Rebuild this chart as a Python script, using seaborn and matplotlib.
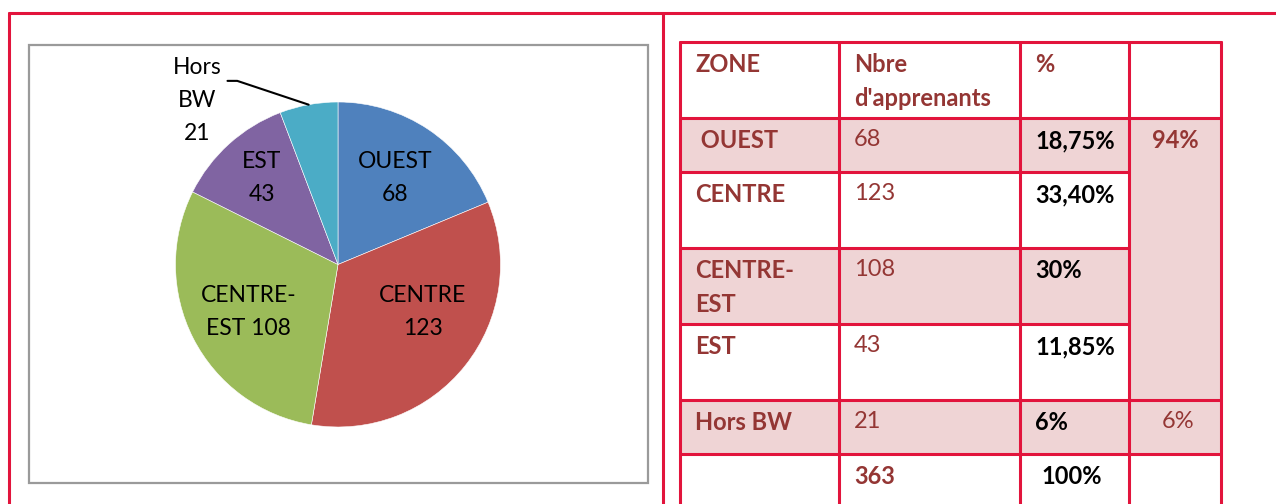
import matplotlib
matplotlib.use("Agg")
import matplotlib.pyplot as plt
import numpy as np
import seaborn as sns
from matplotlib.patches import Rectangle

# pie data
ZONES = ["OUEST", "CENTRE", "CENTRE-EST", "EST", "Hors BW"]
COUNTS = [68, 123, 108, 43, 21]
PIE_LABELS = ["OUEST\n68", "CENTRE\n123", "CENTRE-\nEST 108", "EST\n43", "Hors\nBW\n21"]
PIE_COLORS = ["#4F81BD", "#C0504D", "#9BBB59", "#8064A2", "#4BACC6"]

# table data
HEADER = ["ZONE", "Nbre\nd'apprenants", "%"]
TAB_ZONES = [" OUEST", "CENTRE", "CENTRE-\nEST", "EST", "Hors BW", ""]
TAB_COUNTS = ["68", "123", "108", "43", "21", "363"]
TAB_PCTS = ["18,75%", "33,40%", "30%", "11,85%", "6%", "100%"]
GROUP_PCTS = ["94%", "6%"]

RED = "#E2143C"
DARK = "#943634"
PINK = "#EFD4D5"
W, H = 1276, 504

sns.set_style("white")
plt.rcParams["font.family"] = ["Lato", "DejaVu Sans"]

fig = plt.figure(figsize=(W / 100, H / 100), dpi=100)
bg = fig.add_axes([0, 0, 1, 1])
bg.set_xlim(0, W)
bg.set_ylim(H, 0)
bg.axis("off")

# outer frame
bg.plot([9, W], [13, 13], color=RED, lw=2.2)
bg.plot([9, 9], [13, H], color=RED, lw=2.2)
bg.plot([663, 663], [13, H], color=RED, lw=2.2)

# chart box
bg.add_patch(Rectangle((29, 45), 619, 438, fill=False, ec="#9A9A9A", lw=1.6))

# ---- table ----
cols = [680, 839, 1020, 1129, 1221]
rows = [42, 118, 172, 248, 324, 400, 454, 520]
pink_rows = [0, 2, 4]
for r in pink_rows:
    right = cols[4] if r == 4 else cols[3]
    bg.add_patch(Rectangle((cols[0], rows[r + 1]), right - cols[0], rows[r + 2] - rows[r + 1],
                           fc=PINK, ec="none"))
bg.add_patch(Rectangle((cols[3], rows[1]), cols[4] - cols[3], rows[5] - rows[1], fc=PINK, ec="none"))

lw = 2.2
for x in cols:
    bg.plot([x, x], [rows[0], H + 5], color=RED, lw=lw)
for i, y in enumerate(rows[:-1]):
    if 2 <= i <= 4:
        bg.plot([cols[0], cols[3]], [y, y], color=RED, lw=lw)
    else:
        bg.plot([cols[0], cols[4]], [y, y], color=RED, lw=lw)

fs = 17
pad = 15
ls = 1.58
off = 11
for j, txt in enumerate(HEADER):
    bg.text(cols[j] + pad, rows[0] + off, txt, ha="left", va="top", fontsize=fs,
            fontweight="bold", color=DARK, linespacing=ls)

for i in range(len(TAB_ZONES)):
    top = rows[i + 1] + off
    bg.text(cols[0] + pad, top, TAB_ZONES[i], ha="left", va="top", fontsize=fs,
            fontweight="bold", color=DARK, linespacing=ls)
    last = i == len(TAB_ZONES) - 1
    bg.text(cols[1] + pad, top, TAB_COUNTS[i], ha="left", va="top", fontsize=fs,
            fontweight="bold" if last else "normal", color=DARK)
    bg.text(cols[2] + (21 if last else pad), top, TAB_PCTS[i], ha="left", va="top",
            fontsize=fs, fontweight="bold", color="black")

mid = (cols[3] + cols[4]) / 2
bg.text(mid, rows[1] + off, GROUP_PCTS[0], ha="center", va="top", fontsize=fs,
        fontweight="bold", color=DARK)
bg.text(mid + 3, rows[5] + off, GROUP_PCTS[1], ha="center", va="top", fontsize=fs,
        color=DARK)

# ---- pie ----
cx, cy, rad = 338, 264.5, 162.5
pie_ax = fig.add_axes([(cx - rad) / W, (H - cy - rad) / H, 2 * rad / W, 2 * rad / H])
pie_ax.patch.set_alpha(0)
wedges, _ = pie_ax.pie(COUNTS, colors=sns.color_palette(PIE_COLORS), startangle=90,
                       counterclock=False, radius=1,
                       wedgeprops=dict(edgecolor="white", linewidth=0.4))
pie_ax.set_xlim(-1, 1)
pie_ax.set_ylim(-1, 1)
pie_ax.set_aspect("equal")

# label anchors (axes data units), inside labels then the outside one
label_pos = [(0.35, 0.53), (0.52, -0.29), (-0.55, -0.29), (-0.47, 0.53), (-0.868, 1.01)]
for (x, y), txt in zip(label_pos, PIE_LABELS):
    pie_ax.text(x, y, txt, ha="center", va="center", fontsize=16.5, linespacing=1.72,
                color="black", clip_on=False)

# leader line for Hors BW
w = wedges[4]
ang = np.deg2rad((w.theta1 + w.theta2) / 2)
tip = (np.cos(ang) * 1.0, np.sin(ang) * 1.0)
pie_ax.plot([-0.68, -0.62, tip[0]], [1.13, 1.13, tip[1]], color="black", lw=1.5,
            clip_on=False)

fig.savefig("out.png", dpi=100)
